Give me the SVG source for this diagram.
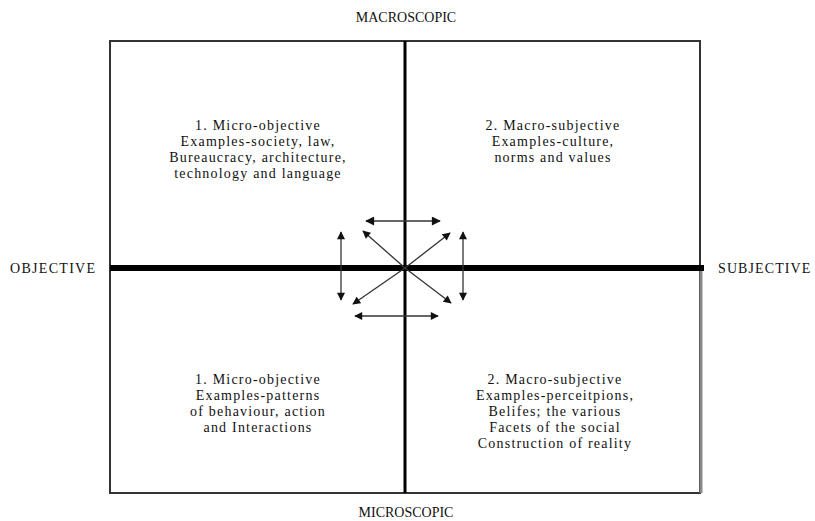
<svg xmlns="http://www.w3.org/2000/svg" width="815" height="521" viewBox="0 0 815 521">
<style>
  text { font-family: "Liberation Serif", "Times New Roman", serif; fill: #111; }
  .q { font-size: 14px; letter-spacing: 1.2px; text-anchor: middle; }
  .lbl { font-size: 14px; }
  .ax { stroke: #000; fill: none; }
  .arr { stroke: #333; stroke-width: 1.3; fill: none; }
</style>
<defs>
  <marker id="ah" viewBox="0 0 10 10" refX="9" refY="5" markerWidth="9" markerHeight="8" markerUnits="userSpaceOnUse" orient="auto-start-reverse">
    <path d="M0,0 L10,5 L0,10 z" fill="#111"/>
  </marker>
  <marker id="ahb" viewBox="0 0 10 10" refX="9" refY="5" markerWidth="10" markerHeight="9" markerUnits="userSpaceOnUse" orient="auto-start-reverse">
    <path d="M0,0 L10,5 L0,10 z" fill="#111"/>
  </marker>
</defs>
<rect width="815" height="521" fill="#fff"/>

<g id="frame">
  <rect x="110" y="41" width="590" height="452" fill="none" stroke="#333" stroke-width="2"/>
  <line x1="701" y1="271" x2="701" y2="493" stroke="#888" stroke-width="3"/>
</g>

<g id="axes">
  <line class="ax" x1="405" y1="41" x2="405" y2="493" stroke-width="3"/>
  <line class="ax" x1="110" y1="268" x2="704" y2="268" stroke-width="6"/>
</g>

<g id="connectors">
  <line class="arr" x1="366" y1="221" x2="440" y2="221" stroke-width="2.6" marker-start="url(#ahb)" marker-end="url(#ahb)"/>
  <line class="arr" x1="355" y1="316" x2="438" y2="316" marker-start="url(#ah)" marker-end="url(#ah)"/>
  <line class="arr" x1="341" y1="232" x2="341" y2="300" marker-start="url(#ah)" marker-end="url(#ah)"/>
  <line class="arr" x1="463" y1="232" x2="463" y2="300" marker-start="url(#ah)" marker-end="url(#ah)"/>
  <line class="arr" x1="405" y1="268" x2="363" y2="231" marker-end="url(#ah)"/>
  <line class="arr" x1="405" y1="268" x2="450" y2="233" marker-end="url(#ah)"/>
  <line class="arr" x1="405" y1="268" x2="353" y2="304" marker-end="url(#ah)"/>
  <line class="arr" x1="405" y1="268" x2="451" y2="303" marker-end="url(#ah)"/>
</g>

<g id="label-macroscopic"><text class="lbl" x="406" y="22" text-anchor="middle" font-size="13">MACROSCOPIC</text></g>
<g id="label-microscopic"><text class="lbl" x="406" y="517" text-anchor="middle" font-size="13">MICROSCOPIC</text></g>
<g id="label-objective"><text class="lbl" x="10" y="273" letter-spacing="1.3">OBJECTIVE</text></g>
<g id="label-subjective"><text class="lbl" x="718" y="273" letter-spacing="1.1">SUBJECTIVE</text></g>

<g id="q1">
  <text class="q" x="258" y="130">1. Micro-objective</text>
  <text class="q" x="258" y="146">Examples-society, law,</text>
  <text class="q" x="258" y="162">Bureaucracy, architecture,</text>
  <text class="q" x="258" y="178">technology and language</text>
</g>
<g id="q2">
  <text class="q" x="553" y="130">2. Macro-subjective</text>
  <text class="q" x="553" y="146">Examples-culture,</text>
  <text class="q" x="553" y="162">norms and values</text>
</g>
<g id="q3">
  <text class="q" x="258" y="384">1. Micro-objective</text>
  <text class="q" x="258" y="400">Examples-patterns</text>
  <text class="q" x="258" y="416">of behaviour, action</text>
  <text class="q" x="258" y="432">and Interactions</text>
</g>
<g id="q4">
  <text class="q" x="555" y="384">2. Macro-subjective</text>
  <text class="q" x="555" y="400">Examples-perceitpions,</text>
  <text class="q" x="555" y="416">Belifes; the various</text>
  <text class="q" x="555" y="432">Facets of the social</text>
  <text class="q" x="555" y="448">Construction of reality</text>
</g>
</svg>
